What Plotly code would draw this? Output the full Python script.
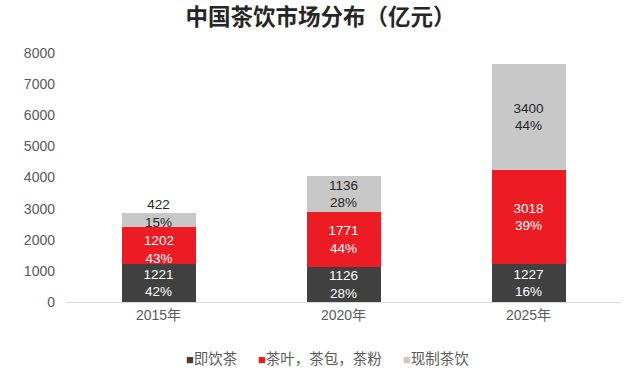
import plotly.graph_objects as go

years = ["2015年", "2020年", "2025年"]
series_names = ["即饮茶", "茶叶，茶包，茶粉", "现制茶饮"]
rtd_tea = [1221, 1126, 1227]
leaf_tea = [1202, 1771, 3018]
fresh_tea = [422, 1136, 3400]
rtd_pct = ["42%", "28%", "16%"]
leaf_pct = ["43%", "44%", "39%"]
fresh_pct = ["15%", "28%", "44%"]
y_ticks = [0, 1000, 2000, 3000, 4000, 5000, 6000, 7000, 8000]

colors = ["#404040", "#ED1C24", "#C8C8C8"]
text_colors = ["#ffffff", "#ffffff", "#262626"]
FONT = "Liberation Sans, Arial, Noto Sans CJK SC, sans-serif"

W, H = 641, 378
L, R, T, B = 66, 20, 53, 76

series_vals = [rtd_tea, leaf_tea, fresh_tea]
series_pcts = [rtd_pct, leaf_pct, fresh_pct]

# labels of the cramped 2015 stack are nudged (as in the reference)
nudge = {(1, 0): -4, (2, 0): 7}

fig = go.Figure()
annotations = []
base = [0] * len(years)
for si, (name, vals, pcts, c, tc) in enumerate(zip(series_names, series_vals,
                                                    series_pcts, colors, text_colors)):
    texts = []
    for i, (v, p) in enumerate(zip(vals, pcts)):
        label = f"{v}<br>{p}"
        if (si, i) in nudge:
            texts.append("")
            annotations.append(dict(
                x=years[i], y=base[i] + v / 2, xref="x", yref="y",
                text=label, showarrow=False, yshift=nudge[(si, i)],
                font=dict(color=tc, size=13.5, family=FONT),
            ))
        else:
            texts.append(label)
    fig.add_trace(go.Bar(
        name=name, x=years, y=vals, text=texts,
        textposition="inside", insidetextanchor="middle",
        constraintext="none", textangle=0,
        textfont=dict(color=tc, size=13.5, family=FONT),
        marker=dict(color=c, line=dict(width=0)),
        hoverinfo="skip", showlegend=False,
    ))
    base = [b + v for b, v in zip(base, vals)]

# legend drawn as annotations (square swatch + label)
legend_px = [184, 256, 401]
for name, c, px in zip(series_names, colors, legend_px):
    annotations.append(dict(
        text=f'<span style="color:{c};font-size:13px">■</span>{name}',
        x=(px - L) / (W - L - R), xref="paper", xanchor="left",
        y=-(359 - (H - B)) / (H - T - B), yref="paper", yanchor="middle",
        showarrow=False, font=dict(size=14.5, color="#595959", family=FONT),
    ))

fig.update_layout(
    barmode="stack", bargap=0.6,
    width=W, height=H,
    margin=dict(l=L, r=R, t=T, b=B, autoexpand=False),
    paper_bgcolor="white", plot_bgcolor="white",
    font=dict(family=FONT, color="#595959", size=14),
    title=dict(text="<b>中国茶饮市场分布（亿元）</b>", x=0.5, xanchor="center",
               y=1 - 17 / H, yanchor="middle",
               font=dict(family="Noto Sans CJK SC, sans-serif", size=22.5, color="#262626")),
    xaxis=dict(showline=True, linecolor="#D9D9D9", linewidth=1, ticks="",
               tickfont=dict(size=14, color="#595959"), showgrid=False,
               automargin=False),
    yaxis=dict(range=[0, 8000], tickvals=y_ticks, showgrid=False, zeroline=False,
               showline=False, ticks="", tickfont=dict(size=14, color="#595959"),
               automargin=False, ticklabelstandoff=10),
    annotations=annotations,
    showlegend=False,
)

fig.write_html("out.html", config={"displayModeBar": False},
               post_script="document.body.style.margin='0px';document.body.style.padding='0px';")
